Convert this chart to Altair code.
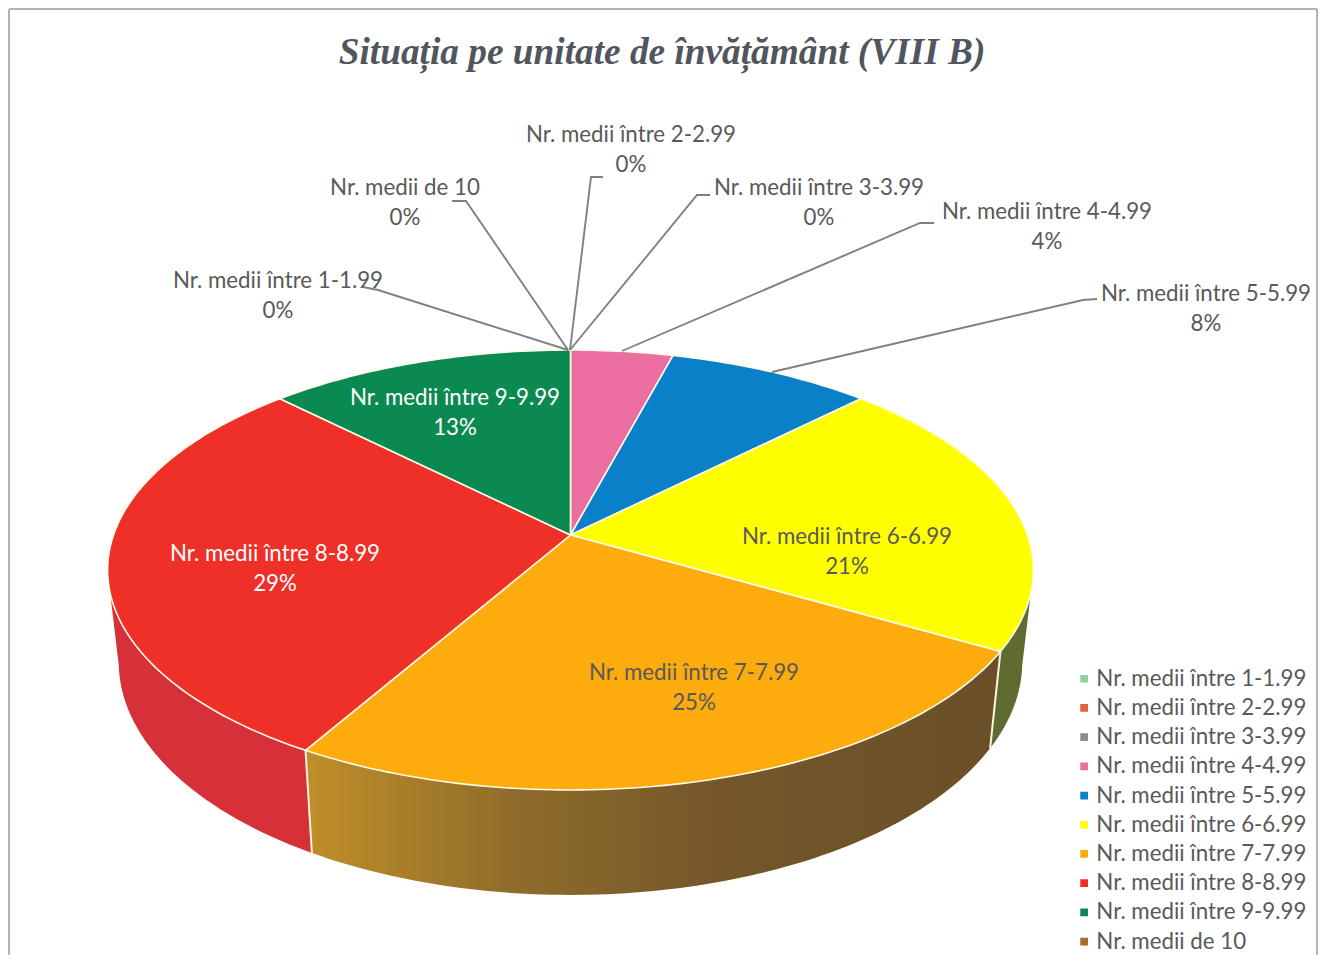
import math
import altair as alt
import pandas as pd

TITLE = "Situația pe unitate de învățământ (VIII B)"
categories = ["Nr. medii între 1-1.99", "Nr. medii între 2-2.99", "Nr. medii între 3-3.99",
              "Nr. medii între 4-4.99", "Nr. medii între 5-5.99", "Nr. medii între 6-6.99",
              "Nr. medii între 7-7.99", "Nr. medii între 8-8.99", "Nr. medii între 9-9.99",
              "Nr. medii de 10"]
counts = [0, 0, 0, 1, 2, 5, 6, 7, 3, 0]
colors = ["#8fd0a0", "#e9603f", "#8c8c8c", "#ea6fa0", "#0a80c8", "#ffff00",
          "#fdab0d", "#ee3029", "#0a8a50", "#a86a28"]

# label layout: category -> (centre x, first line y, text colour)
label_layout = {
    0: (278, 281, "#595959"), 9: (405, 188, "#595959"), 1: (631, 135, "#595959"),
    2: (819, 188, "#595959"), 3: (1047, 212, "#595959"), 4: (1206, 294, "#595959"),
    8: (455, 398, "#ffffff"), 7: (275, 554, "#ffffff"), 6: (694, 673, "#595959"),
    5: (847, 537, "#595959"),
}
# leader lines: category -> polyline
leaders = {
    0: [(363, 287), (378, 290), (568, 350)],
    9: [(452, 201), (466, 201), (568, 350)],
    1: [(603, 177), (591, 177), (570, 350)],
    2: [(710, 195), (697, 195), (570, 350)],
    3: [(934, 223), (920, 223), (622, 351)],
    4: [(1097, 299), (1083, 300), (772, 372)],
}

CX, CY, R, B, P = 570.5, 535, 457, 214.4, 0.159
CY2, R2, B2 = 625, 446, 227
FONT = "Lato"
FS = 22.3
XD = [8, 1318]
YD = [955, 8]


def rim(deg, cy=CY, r=R, b=B):
    t = math.radians(deg)
    u, v = math.sin(t), -math.cos(t)
    w = 1 - P * v
    return CX + r * u / w, cy + b * v / w


def arc(a0, a1, **kw):
    n = max(2, int(abs(a1 - a0)) + 1)
    return [rim(a0 + (a1 - a0) * i / (n - 1), **kw) for i in range(n)]


total = sum(counts)
spans = {}
acc = 0
order_idx = [3, 4, 5, 6, 7, 8, 9, 0, 1, 2]
for i in order_idx:
    spans[i] = (acc, acc + 360 * counts[i] / total)
    acc = spans[i][1]

rows = []
for i in order_idx:
    if counts[i] == 0:
        continue
    a0, a1 = spans[i]
    pts = [(CX, CY)] + arc(a0, a1) + [(CX, CY)]
    rows += [dict(cat=categories[i], i=k, x=x, y=y) for k, (x, y) in enumerate(pts)]
top_df = pd.DataFrame(rows)

X = alt.X("x:Q", scale=alt.Scale(domain=XD, nice=False, zero=False), axis=None)
Y = alt.Y("y:Q", scale=alt.Scale(domain=YD, nice=False, zero=False), axis=None)
ORD = alt.Order("i:Q")


def wall(i, top0, bot0, top1, bot1, fill):
    pts = arc(top0, top1) + arc(bot1, bot0, cy=CY2, r=R2, b=B2)
    pts.append(pts[0])
    df = pd.DataFrame([dict(i=k, x=x, y=y) for k, (x, y) in enumerate(pts)])
    return alt.Chart(df).mark_line(fill=fill, strokeWidth=0, stroke="transparent").encode(x=X, y=Y, order=ORD)


def grad(stops):
    return alt.LinearGradient(gradient="linear", x1=0, x2=1, y1=0, y2=0,
                              stops=[alt.GradientStop(offset=o, color=c) for o, c in stops])


a5 = spans[5]; a6 = spans[6]; a7 = spans[7]
walls = [
    wall(5, 105, 100, a5[1], a5[1], "#5f6b30"),
    wall(6, a5[1], a5[1], a6[1], a6[1], grad([(0, "#c08f2a"), (0.3, "#8f6c2a"), (0.6, "#74562a"), (1, "#6a4f28")])),
    wall(7, a6[1], a6[1], 255, 260, "#d63038"),
]

edge_rows = []
for n, ang in enumerate([a5[1], a6[1]]):
    for k, (x, y) in enumerate([rim(ang), rim(ang, cy=CY2, r=R2, b=B2)]):
        edge_rows.append(dict(e=n, i=k, x=x, y=y))
edges = alt.Chart(pd.DataFrame(edge_rows)).mark_line(color="#fdf6dc", strokeWidth=2).encode(
    x=X, y=Y, order=ORD, detail="e:N")

slices = alt.Chart(top_df).mark_line(stroke="#fffbe8", strokeWidth=1.6, strokeJoin="round").encode(
    x=X, y=Y, order=ORD,
    fill=alt.Fill("cat:N", scale=alt.Scale(domain=categories, range=colors),
                  legend=alt.Legend(title=None, orient="none", legendX=1065, legendY=660,
                                    symbolType="square", symbolSize=60, symbolStrokeWidth=0,
                                    labelFont=FONT, labelFontSize=FS, labelColor="#595959",
                                    rowPadding=5.2, labelOffset=1, labelLimit=300, symbolOffset=0,
                                    clipHeight=21.5)),
    stroke=alt.value("#fffbe8"),
)

lead_rows = []
for c, poly in leaders.items():
    for k, (x, y) in enumerate(poly):
        lead_rows.append(dict(c=c, i=k, x=x, y=y))
lead = alt.Chart(pd.DataFrame(lead_rows)).mark_line(color="#808080", strokeWidth=1.9).encode(
    x=X, y=Y, order=ORD, detail="c:N")

text_rows = []
for c, (x, y, col) in label_layout.items():
    text_rows.append(dict(t=categories[c], x=x, y=y, col=col))
    text_rows.append(dict(t=f"{round(100 * counts[c] / total + 1e-9)}%", x=x, y=y + 29.5, col=col))
labels = alt.Chart(pd.DataFrame(text_rows)).mark_text(font=FONT, fontSize=FS, align="center", baseline="middle").encode(
    x=X, y=Y, text="t:N", color=alt.Color("col:N", scale=None, legend=None))

frame_df = pd.DataFrame([dict(x=9, x2=1317, y=9, y2=955)])
SX = alt.Scale(domain=XD, nice=False, zero=False)
SY = alt.Scale(domain=YD, nice=False, zero=False)
frame_r = alt.Chart(frame_df).mark_rule(color="#b4b4b4", strokeWidth=2).encode(
    x=alt.X("x2:Q", scale=SX, axis=None), y=alt.Y("y:Q", scale=SY, axis=None), y2="y2:Q")
frame_l = alt.Chart(frame_df).mark_rule(color="#b4b4b4", strokeWidth=2).encode(
    x=alt.X("x:Q", scale=SX, axis=None), y=alt.Y("y:Q", scale=SY, axis=None), y2="y2:Q")
frame_t = alt.Chart(frame_df).mark_rule(color="#b4b4b4", strokeWidth=2).encode(
    x=alt.X("x:Q", scale=SX, axis=None), x2="x2:Q", y=alt.Y("y:Q", scale=SY, axis=None))

chart = alt.layer(frame_r, frame_l, frame_t, *walls, edges, slices, lead, labels).properties(
    width=1310, height=947, padding=0, background="white",
    autosize=alt.AutoSizeParams(type="none"),
    title=alt.TitleParams(TITLE, font="Liberation Serif", fontSize=37.3, fontWeight="bold", fontStyle="italic",
                          color="#50555e", anchor="middle", dx=-1, dy=68),
).configure_view(stroke=None)

chart.save("out.html", embed_options={"renderer": "svg", "actions": False})
